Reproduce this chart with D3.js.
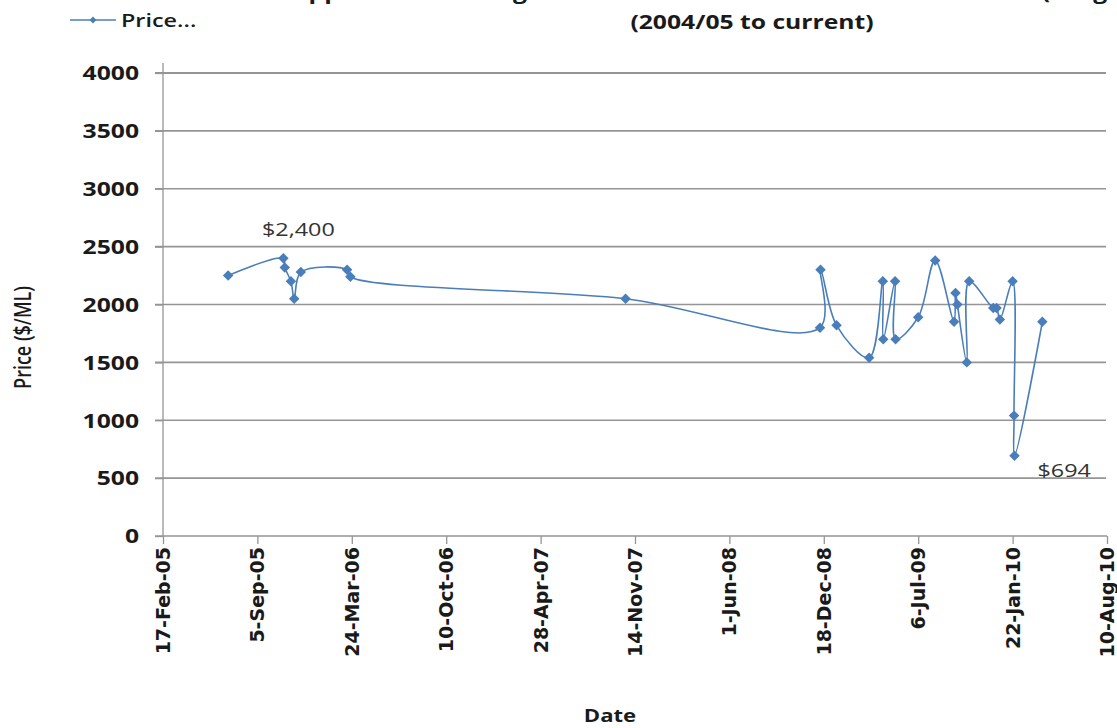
<!DOCTYPE html>
<html>
<head>
<meta charset="utf-8">
<script src="https://cdn.jsdelivr.net/npm/d3@7"></script>
<style>
  body { margin: 0; background: #ffffff; }
  text { font-family: "Open Sans", "DejaVu Sans", sans-serif; }
</style>
</head>
<body>
<svg id="chart" width="1117" height="728"></svg>
<script>
// Trade dates and weighted prices ($/ML)
const tradeDates = [
  "2005-07-05", "2005-10-30", "2005-11-02", "2005-11-15", "2005-11-22", "2005-12-06",
  "2006-03-14", "2006-03-21", "2007-10-25", "2008-12-10", "2008-12-11", "2009-01-14",
  "2009-03-24", "2009-04-22", "2009-04-23", "2009-05-18", "2009-05-19", "2009-07-06",
  "2009-08-11", "2009-09-20", "2009-09-23", "2009-09-27", "2009-10-17", "2009-10-22",
  "2009-12-12", "2009-12-19", "2009-12-26", "2010-01-22", "2010-01-25", "2010-01-26",
  "2010-03-26"
];
const tradePrices = [
  2250, 2400, 2320, 2200, 2050, 2280,
  2300, 2240, 2050, 1800, 2300, 1820,
  1540, 2200, 1700, 2200, 1700, 1890,
  2380, 1850, 2100, 2000, 1500, 2200,
  1970, 1970, 1870, 2200, 1040, 694,
  1850
];
// Prices called out on the chart
const calloutPrices = [2400, 694];

const yTickValues = [0, 500, 1000, 1500, 2000, 2500, 3000, 3500, 4000];
const xTickLabels = [
  "2005-02-17", "2005-09-05", "2006-03-24", "2006-10-10", "2007-04-28", "2007-11-14",
  "2008-06-01", "2008-12-18", "2009-07-06", "2010-01-22", "2010-08-10"
];

const titleLines = [
  "Upper Murrumbidgee Groundwater Allocation Market Prices (weighting, ex",
  "(2004/05 to current)"
];
const seriesName = "Price...";
const xTitle = "Date";
const yTitle = "Price ($/ML)";

const parse = d3.utcParse("%Y-%m-%d");
const fmtDate = d3.utcFormat("%-d-%b-%y");
const data = tradeDates.map((d, i) => ({ date: parse(d), price: tradePrices[i] }));
const xTicks = xTickLabels.map(parse);

const svg = d3.select("#chart");
const blue = "#4A7EBB";
const grid = "#959595";
const stretch = 1.3;

const plot = { left: 163, right: 1107, top: 73, bottom: 536 };

const x = d3.scaleUtc()
  .domain([xTicks[0], xTicks[xTicks.length - 1]])
  .range([plot.left, plot.right]);
const y = d3.scaleLinear()
  .domain([0, 4000])
  .range([plot.bottom, plot.top]);

// Horizontal gridlines
svg.append("g")
  .selectAll("line")
  .data(yTickValues.filter(v => v > 0))
  .join("line")
  .attr("x1", plot.left - 8)
  .attr("x2", plot.right - 1)
  .attr("y1", d => y(d))
  .attr("y2", d => y(d))
  .attr("stroke", grid)
  .attr("stroke-width", d => d === 4000 ? 2.2 : 1.6);

// Y axis
const yAxis = svg.append("g")
  .attr("transform", `translate(${plot.left},0)`)
  .call(d3.axisLeft(y).tickValues(yTickValues).tickFormat(d3.format("d")).tickSize(8).tickPadding(0));
yAxis.select(".domain").attr("stroke", grid).attr("stroke-width", 1.3)
  .attr("d", `M0,${plot.top - 10}V${plot.bottom}`);
yAxis.selectAll(".tick line").attr("stroke", grid).attr("stroke-width", 1.3);
yAxis.selectAll(".tick text")
  .attr("x", -24 / stretch)
  .attr("dy", "0.36em")
  .attr("transform", `scale(${stretch},1)`)
  .attr("fill", "#1a1a1a")
  .style("font-family", '"Open Sans", sans-serif')
  .style("font-weight", "700")
  .style("font-size", "19px")
  .attr("text-anchor", "end");

// X axis
const xAxis = svg.append("g")
  .attr("transform", `translate(0,${plot.bottom})`)
  .call(d3.axisBottom(x).tickValues(xTicks).tickFormat(fmtDate).tickSize(8).tickPadding(0));
xAxis.select(".domain").attr("stroke", grid).attr("stroke-width", 1.6)
  .attr("d", `M${plot.left - 8},0H${plot.right}`);
xAxis.selectAll(".tick line").attr("stroke", grid).attr("stroke-width", 1.3);
xAxis.selectAll(".tick text")
  .attr("transform", "rotate(-90)")
  .attr("x", -11)
  .attr("y", 0)
  .attr("dy", "0.34em")
  .attr("text-anchor", "end")
  .attr("fill", "#1a1a1a")
  .style("font-family", '"DejaVu Sans", sans-serif')
  .style("font-weight", "700")
  .style("font-size", "19px");

// Smoothed price line
const line = d3.line()
  .x(d => x(d.date))
  .y(d => y(d.price))
  .curve(d3.curveCatmullRom.alpha(0.5));

svg.append("path")
  .datum(data)
  .attr("d", line)
  .attr("fill", "none")
  .attr("stroke", blue)
  .attr("stroke-width", 1.6);

// Diamond markers
const diamond = d3.symbol().type(d3.symbolDiamond2).size(70);
svg.append("g")
  .selectAll("path")
  .data(data)
  .join("path")
  .attr("d", diamond)
  .attr("transform", d => `translate(${x(d.date)},${y(d.price)})`)
  .attr("fill", blue);

// Value callouts
const callouts = calloutPrices.map(p => data.find(d => d.price === p));
const offsets = { 2400: [15, -22], 694: [23, 21] };
svg.append("g")
  .selectAll("text")
  .data(callouts)
  .join("text")
  .attr("transform", d => {
    const o = offsets[d.price];
    return `translate(${x(d.date) + o[0]},${y(d.price) + o[1]}) scale(${stretch},1)`;
  })
  .attr("text-anchor", d => d.price === 694 ? "start" : "middle")
  .attr("fill", "#333")
  .style("font-size", "18px")
  .text(d => "$" + d3.format(",")(d.price));

// Axis titles
svg.append("text")
  .attr("transform", `translate(610,722) scale(${stretch},1)`)
  .attr("text-anchor", "middle")
  .attr("fill", "#1a1a1a")
  .style("font-weight", "700")
  .style("font-size", "17px")
  .text(xTitle);

svg.append("text")
  .attr("transform", `translate(31,${(plot.top + plot.bottom) / 2 + 33}) scale(${stretch},1) rotate(-90)`)
  .attr("text-anchor", "middle")
  .attr("fill", "#1a1a1a")
  .style("font-weight", "600")
  .style("font-size", "18px")
  .text(yTitle);

// Chart title (first line runs off the top edge)
svg.append("text")
  .attr("transform", `translate(752,-1) scale(${stretch},1)`)
  .attr("text-anchor", "middle")
  .attr("fill", "#1a1a1a")
  .style("font-weight", "700")
  .style("font-size", "19px")
  .text(titleLines[0]);
svg.append("text")
  .attr("transform", `translate(752,29) scale(${stretch},1)`)
  .attr("text-anchor", "middle")
  .attr("fill", "#1a1a1a")
  .style("font-weight", "700")
  .style("font-size", "19px")
  .text(titleLines[1]);

// Legend
const legend = svg.append("g").attr("transform", "translate(70,20)");
legend.append("line")
  .attr("x1", 0).attr("x2", 46).attr("y1", 0).attr("y2", 0)
  .attr("stroke", blue).attr("stroke-width", 1.6);
legend.append("path")
  .attr("d", d3.symbol().type(d3.symbolDiamond2).size(30))
  .attr("transform", "translate(23,0)")
  .attr("fill", blue);
legend.append("text")
  .attr("transform", `translate(51,7) scale(${stretch},1)`)
  .attr("fill", "#1a1a1a")
  .style("font-weight", "600")
  .style("font-size", "18px")
  .text(seriesName);
</script>
</body>
</html>
